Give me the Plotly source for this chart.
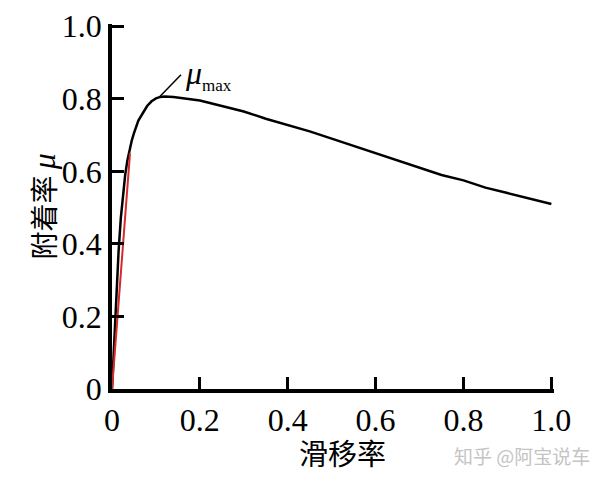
import plotly.graph_objects as go

# slip ratio vs adhesion coefficient
slip = [0, 0.005, 0.01, 0.015, 0.02, 0.025, 0.03, 0.035, 0.04, 0.045, 0.05,
        0.06, 0.07, 0.08, 0.09, 0.10, 0.11, 0.12, 0.14, 0.17, 0.2, 0.25,
        0.3, 0.35, 0.4, 0.45, 0.5, 0.55, 0.6, 0.65, 0.7, 0.75, 0.8, 0.85,
        0.9, 0.95, 1.0]
mu = [0, 0.14, 0.27, 0.38, 0.47, 0.54, 0.59, 0.63, 0.66, 0.685, 0.705,
      0.74, 0.76, 0.78, 0.793, 0.801, 0.805, 0.806, 0.805, 0.80, 0.795,
      0.78, 0.765, 0.745, 0.728, 0.71, 0.69, 0.67, 0.65, 0.63, 0.61, 0.59,
      0.575, 0.555, 0.54, 0.525, 0.51]

# linear (red) segment
lin_x = [0, 0.041]
lin_y = [0, 0.65]

tick_vals = [0, 0.2, 0.4, 0.6, 0.8, 1.0]
tick_text = ["0", "0.2", "0.4", "0.6", "0.8", "1.0"]

# mu_max label leader line: from peak to label
peak_pt = (0.109, 0.806)
label_pt = (0.157, 0.866)

serif = "Liberation Serif, Times New Roman, serif"
cjk = "Noto Sans CJK SC, sans-serif"

fig = go.Figure()
fig.add_trace(go.Scatter(x=slip, y=mu, mode="lines",
                         line=dict(color="black", width=2.5), showlegend=False))
fig.add_trace(go.Scatter(x=lin_x, y=lin_y, mode="lines",
                         line=dict(color="#d42a2a", width=2), showlegend=False))

fig.add_shape(type="line", x0=peak_pt[0], y0=peak_pt[1], x1=label_pt[0], y1=label_pt[1],
              line=dict(color="black", width=1.5))
fig.add_annotation(x=label_pt[0], y=label_pt[1],
                   text="<i>μ</i><sub><span style='font-size:17px'>max</span></sub>",
                   showarrow=False, xanchor="left", yanchor="middle", xshift=2, yshift=0,
                   font=dict(family=serif, size=32, color="black"))

# axis titles
fig.add_annotation(x=0.5, y=0, xref="paper", yref="paper", text="滑移率",
                   showarrow=False, xanchor="center", yanchor="middle",
                   xshift=9, yshift=-63, font=dict(family=cjk, size=29, color="black"))
fig.add_annotation(x=0, y=0.5, xref="paper", yref="paper",
                   text="附着率 <span style='font-family:Liberation Serif;font-size:32px'><i>μ</i></span>",
                   showarrow=False, textangle=-90, xanchor="center", yanchor="middle",
                   xshift=-70, yshift=0, font=dict(family=cjk, size=28, color="black"))

# watermark
fig.add_annotation(x=1, y=0, xref="paper", yref="paper", text="知乎 @阿宝说车",
                   showarrow=False, xanchor="center", yanchor="middle",
                   xshift=-32, yshift=-66, font=dict(family=cjk, size=19, color="#c4c4c4"))

# range a hair past 1.0 so plotly keeps the end ticks
axis_common = dict(range=[0, 1.006], showgrid=False, zeroline=False, showline=True,
                   linecolor="black", linewidth=3.5, ticks="inside", ticklen=12,
                   tickwidth=3, tickcolor="black", tickvals=tick_vals, ticktext=tick_text,
                   tickfont=dict(family=serif, size=32, color="black"), automargin=False,
                   ticklabeloverflow="allow")

fig.update_xaxes(**axis_common)
fig.update_yaxes(**axis_common)

# page body has an 8px margin, so the figure is 8px smaller than the window
fig.update_layout(width=592, height=474, plot_bgcolor="white", paper_bgcolor="white",
                  margin=dict(l=104, r=46, t=16, b=93), showlegend=False)

fig.write_html("out.html")
